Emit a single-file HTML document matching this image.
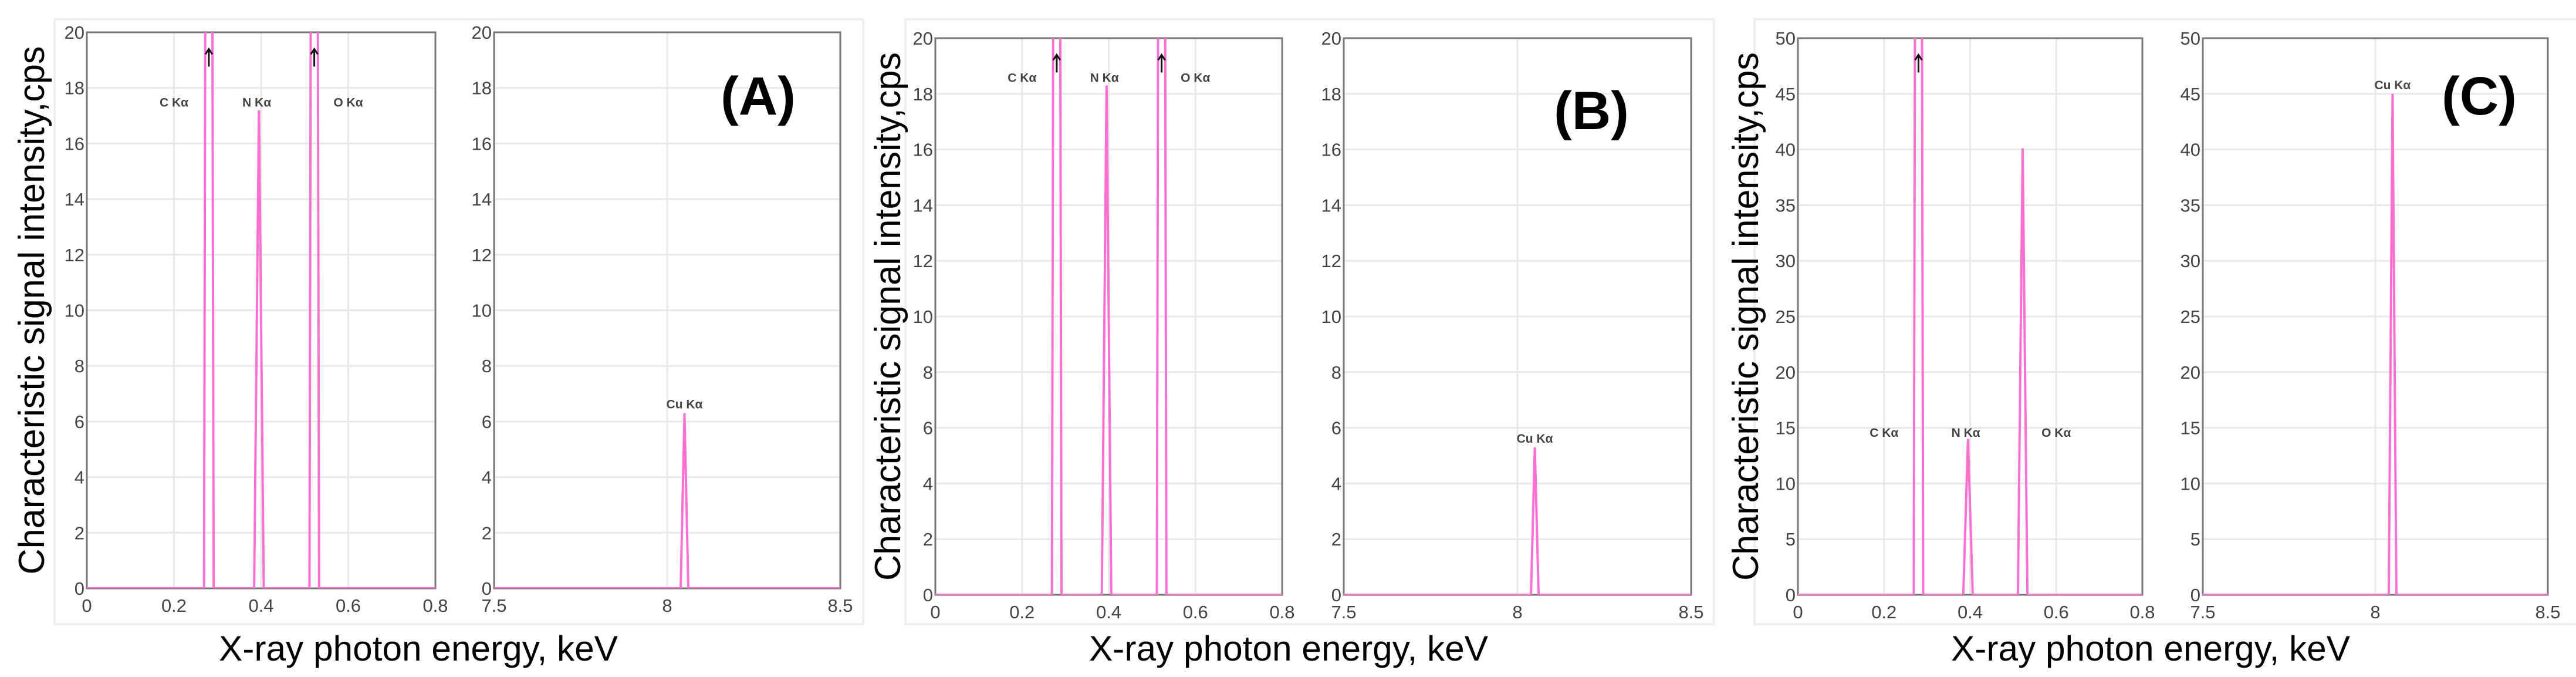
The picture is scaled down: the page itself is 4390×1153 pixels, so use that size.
<!DOCTYPE html>
<html><head><meta charset="utf-8"><style>
html,body{margin:0;padding:0;background:#fff;}
svg{display:block;}
text{font-family:"Liberation Sans",sans-serif;}
</style></head><body>
<svg id="fig" width="4390" height="1153" viewBox="0 0 4390 1153" xmlns="http://www.w3.org/2000/svg"></svg>
<script>
// ---- data ----
const lowTicksX = [0, 0.2, 0.4, 0.6, 0.8];
const highTicksX = [7.5, 8, 8.5];
const yTicksAB = [0,2,4,6,8,10,12,14,16,18,20];
const yTicksC = [0,5,10,15,20,25,30,35,40,45,50];
const peakNames = ["C", "N", "O"];
const peakCenters = [0.28, 0.395, 0.522];
const peakHalfWidth = [0.011, 0.011, 0.011];
const cuCenter = 8.05;
const cuHalfWidth = 0.011;
const peaksA = [80, 17.2, 80];
const peaksB = [80, 18.3, 80];
const peaksC = [200, 14.0, 40.1];
const cuA = 6.3, cuB = 5.3, cuC = 45;
const labelYA = 17.5, labelYB = 18.6, labelYC = 14.6;
const labelXs = [0.2, 0.39, 0.6];
const panelTags = ["(A)", "(B)", "(C)"];

const svg = document.getElementById('fig');
const NS = "http://www.w3.org/2000/svg";
function mk(tag, attrs, parent){
  const e = document.createElementNS(NS, tag);
  for (const k in attrs) e.setAttribute(k, attrs[k]);
  (parent||svg).appendChild(e);
  return e;
}
let clipId = 0;
function axes(g, x0, x1, y0, y1, xd, yd, xticks, yticks, name){
  const sx = v => x0 + (v - xd[0]) / (xd[1] - xd[0]) * (x1 - x0);
  const sy = v => y1 - (v - yd[0]) / (yd[1] - yd[0]) * (y1 - y0);
  const bg = mk('rect', {x:x0, y:y0, width:x1-x0, height:y1-y0, fill:'#fff'}, g);
  
  
  yticks.forEach(t => {
    const l = mk('line', {x1:x0, x2:x1, y1:sy(t), y2:sy(t), stroke:'#e8e8e8', 'stroke-width':3}, g);
    
    
    const tx = mk('text', {x:x0-4, y:sy(t)+11, 'text-anchor':'end', 'font-size':31, fill:'#444'}, g);
    tx.textContent = t;
    
    
  });
  xticks.forEach(t => {
    const l = mk('line', {x1:sx(t), x2:sx(t), y1:y0, y2:y1, stroke:'#e8e8e8', 'stroke-width':3}, g);
    
    
    const tx = mk('text', {x:sx(t), y:y1+40, 'text-anchor':'middle', 'font-size':31, fill:'#444'}, g);
    tx.textContent = t;
    
    
  });
  clipId++;
  const cp = mk('clipPath', {id:'cp'+clipId}, g);
  mk('rect', {x:x0, y:y0, width:x1-x0, height:y1-y0}, cp);
  const fr = mk('rect', {x:x0, y:y0, width:x1-x0, height:y1-y0, fill:'none', stroke:'#777', 'stroke-width':3}, g);
  
  
  return {sx, sy, clip:'url(#cp'+clipId+')'};
}
function spectrum(g, ax, xd, centers, hws, heights, name){
  let pts = [[xd[0],0]];
  centers.forEach((c,i) => {
    pts.push([c-hws[i],0]); pts.push([c, heights[i]]); pts.push([c+hws[i],0]);
  });
  pts.push([xd[1],0]);
  const d = pts.map((p,i)=>(i?'L':'M')+ax.sx(p[0]).toFixed(1)+','+ax.sy(p[1]).toFixed(1)).join(' ');
  const p = mk('path', {d, fill:'none', stroke:'#ff6fd0', 'stroke-width':4, 'clip-path':ax.clip}, g);
  
  
}
function label(g, x, y, txt, name){
  const t = mk('text', {x, y, 'text-anchor':'middle', 'font-size':21, 'font-weight':'bold', fill:'#444'}, g);
  t.textContent = txt;
  
  
}
function arrow(g, x, y, name){
  const a = mk('g', {}, g);
  
  
  mk('line', {x1:x, x2:x, y1:y, y2:y+30, stroke:'#111', 'stroke-width':3}, a);
  mk('path', {d:`M${x-6},${y+9} L${x},${y} L${x+6},${y+9}`, fill:'none', stroke:'#111', 'stroke-width':3}, a);
}
const panels = [
  {tag:panelTags[0], box:[93,33,1471,1063], L:[148,742], R:[842,1432], y0:55, y1:1002, yt:yTicksAB, pk:peaksA, cu:cuA, ly:labelYA, arrows:[0,2], tagX:1292, tagY:195, ytx:53, xtx:713},
  {tag:panelTags[1], box:[1543,33,2921,1063], L:[1594,2185], R:[2290,2882], y0:65, y1:1013, yt:yTicksAB, pk:peaksB, cu:cuB, ly:labelYB, arrows:[0,2], tagX:2712, tagY:220, ytx:1512, xtx:2196},
  {tag:panelTags[2], box:[2990,33,4400,1063], L:[3064,3651], R:[3754,4342], y0:65, y1:1013, yt:yTicksC, pk:peaksC, cu:cuC, ly:labelYC, arrows:[0], tagX:4225, tagY:195, ytx:2974, xtx:3665}
];
panels.forEach((P, idx) => {
  const nm = 'panel-' + 'abc'[idx];
  const g = mk('g', {});
  
  
  const ob = mk('rect', {x:P.box[0], y:P.box[1], width:P.box[2]-P.box[0], height:P.box[3]-P.box[1], fill:'#fff', stroke:'#eee', 'stroke-width':4}, g);
  
  
  const ymax = P.yt[P.yt.length-1];
  const axL = axes(g, P.L[0], P.L[1], P.y0, P.y1, [0,0.8], [0,ymax], lowTicksX, P.yt, nm+'-low-energy');
  spectrum(g, axL, [0,0.8], peakCenters, peakHalfWidth, P.pk, nm+'-low-energy-spectrum');
  peakNames.forEach((n,i) => label(g, axL.sx(labelXs[i]), axL.sy(P.ly)+8, n + ' K\u03b1', nm+'-label-'+n.toLowerCase()));
  P.arrows.forEach(i => arrow(g, axL.sx(peakCenters[i]), axL.sy(ymax*0.97), nm+'-arrow-'+peakNames[i].toLowerCase()));
  const axR = axes(g, P.R[0], P.R[1], P.y0, P.y1, [7.5,8.5], [0,ymax], highTicksX, P.yt, nm+'-high-energy');
  spectrum(g, axR, [7.5,8.5], [cuCenter], [cuHalfWidth], [P.cu], nm+'-high-energy-spectrum');
  label(g, axR.sx(cuCenter), axR.sy(P.cu)-8, 'Cu K\u03b1', nm+'-label-cu');
  const tg = mk('text', {x:P.tagX, y:P.tagY, 'text-anchor':'middle', 'font-size':92, 'font-weight':'bold', fill:'#000'}, g);
  tg.textContent = P.tag;
  
  
  const yt = mk('text', {x:0, y:0, transform:`translate(${P.ytx+22},${(P.y0+P.y1)/2}) rotate(-90)`, 'text-anchor':'middle', 'font-size':62, fill:'#000', textLength:900, lengthAdjust:'spacingAndGlyphs'}, g);
  yt.textContent = 'Characteristic signal intensity,cps';
  
  
  const xt = mk('text', {x:P.xtx, y:1125, 'text-anchor':'middle', 'font-size':60, fill:'#000', textLength:680, lengthAdjust:'spacingAndGlyphs'}, g);
  xt.textContent = 'X-ray photon energy, keV';
  
  
});
</script>
</body></html>
